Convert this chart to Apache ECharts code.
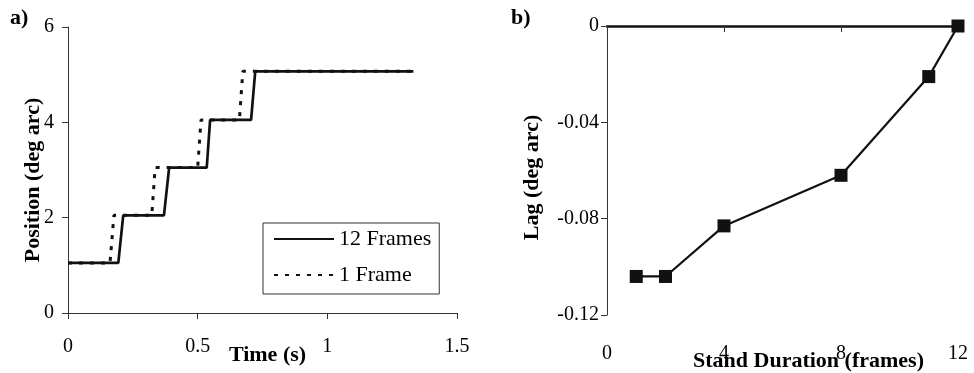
<!DOCTYPE html>
<html><head><meta charset="utf-8">
<script src="https://cdn.jsdelivr.net/npm/echarts@6/dist/echarts.min.js"></script>
<style>html,body{margin:0;padding:0;background:#fff}#c{width:974px;height:373px}</style>
</head><body><div id="c"></div>
<script>
// Panel a) staircase position traces
const time12 = [0, 0.194, 0.213, 0.370, 0.390, 0.535, 0.548, 0.706, 0.722, 1.332];
const pos12  = [1.05, 1.05, 2.05, 2.05, 3.05, 3.05, 4.05, 4.05, 5.07, 5.07];
const time1  = [0, 0.162, 0.177, 0.323, 0.336, 0.500, 0.513, 0.661, 0.674, 1.332];
const pos1   = [1.05, 1.05, 2.05, 2.05, 3.05, 3.05, 4.05, 4.05, 5.07, 5.07];
// Panel b) lag vs stand duration
const standDuration = [1, 2, 4, 8, 11, 12];
const lag = [-0.104, -0.104, -0.083, -0.062, -0.021, 0];
const seriesNames = ['12 Frames', '1 Frame'];

const FONT = 'Liberation Serif';
const ink = '#111';
const zip = (xs, ys) => xs.map((x, i) => [x, ys[i]]);

const chart = echarts.init(document.getElementById('c'), null, {renderer: 'canvas'});
const axisCommon = {
  axisLine: {show: true, lineStyle: {color: '#333', width: 1}},
  axisTick: {show: true, length: 6, lineStyle: {color: '#333'}},
  splitLine: {show: false},
  nameMoveOverlap: false,
  axisLabel: {fontFamily: FONT, fontSize: 20, color: '#000'},
  nameTextStyle: {fontFamily: FONT, fontSize: 22, fontWeight: 'bold', color: '#000'}
};
chart.setOption({
  animation: false,
  backgroundColor: '#fff',
  grid: [
    {left: 68, top: 27, width: 389, height: 286, outerBoundsMode: 'none', containLabel: false},
    {left: 607, top: 26, width: 351, height: 289, outerBoundsMode: 'none', containLabel: false}
  ],
  xAxis: [
    Object.assign({}, axisCommon, {
      gridIndex: 0, type: 'value', min: 0, max: 1.5, interval: 0.5,
      name: 'Time (s)', nameLocation: 'middle', nameGap: 31,
      nameTextStyle: Object.assign({}, axisCommon.nameTextStyle, {padding: [0, 0, 0, 10]}),
      axisLabel: Object.assign({}, axisCommon.axisLabel, {margin: 24})
    }),
    Object.assign({}, axisCommon, {
      gridIndex: 1, type: 'value', min: 0, max: 12, interval: 4,
      name: 'Stand Duration (frames)', nameLocation: 'middle', nameGap: 35,
      nameTextStyle: Object.assign({}, axisCommon.nameTextStyle, {padding: [0, 0, 0, 52]}),
      axisLabel: Object.assign({}, axisCommon.axisLabel, {margin: 29})
    }),
    {
      gridIndex: 1, type: 'value', position: 'top', min: 0, max: 12,
      axisLine: {show: true, lineStyle: {color: ink, width: 2.5}},
      axisTick: {show: false}, axisLabel: {show: false}, splitLine: {show: false}
    }
  ],
  yAxis: [
    Object.assign({}, axisCommon, {
      gridIndex: 0, type: 'value', min: 0, max: 6, interval: 2,
      name: 'Position (deg arc)', nameLocation: 'middle', nameGap: 24,
      nameTextStyle: Object.assign({}, axisCommon.nameTextStyle, {padding: [0, 20, 0, 0]}),
      axisLabel: Object.assign({}, axisCommon.axisLabel, {margin: 14})
    }),
    Object.assign({}, axisCommon, {
      gridIndex: 1, type: 'value', min: -0.12, max: 0, interval: 0.04,
      name: 'Lag (deg arc)', nameLocation: 'middle', nameGap: 64,
      nameTextStyle: Object.assign({}, axisCommon.nameTextStyle, {padding: [0, 14, 0, 0]}),
      axisLabel: Object.assign({}, axisCommon.axisLabel, {margin: 8})
    })
  ],
  legend: {
    show: true, orient: 'vertical', left: 263, top: 223,
    data: seriesNames,
    itemWidth: 60, itemHeight: 14, itemGap: 14,
    padding: [5, 8, 8, 10],
    borderColor: '#333', borderWidth: 1,
    itemStyle: {opacity: 0},
    textStyle: {fontFamily: FONT, fontSize: 22, color: '#000'}
  },
  graphic: [
    {type: 'text', left: 10, top: 7, style: {text: 'a)', font: 'bold 22px "Liberation Serif"', fill: '#000'}},
    {type: 'text', left: 511, top: 7, style: {text: 'b)', font: 'bold 22px "Liberation Serif"', fill: '#000'}}
  ],
  series: [
    {
      name: seriesNames[0], type: 'line', xAxisIndex: 0, yAxisIndex: 0,
      data: zip(time12, pos12), showSymbol: false, symbol: 'none',
      lineStyle: {color: ink, width: 2.7}, itemStyle: {color: ink}, z: 3
    },
    {
      name: seriesNames[1], type: 'line', xAxisIndex: 0, yAxisIndex: 0,
      data: zip(time1, pos1), showSymbol: false, symbol: 'none',
      lineStyle: {color: ink, width: 3, type: [4, 7]}, itemStyle: {color: ink}, z: 2
    },
    {
      name: 'Lag', type: 'line', xAxisIndex: 1, yAxisIndex: 1,
      data: zip(standDuration, lag), symbol: 'rect', symbolSize: 13,
      lineStyle: {color: ink, width: 2.2}, itemStyle: {color: ink}, z: 3
    }
  ]
});
</script></body></html>
